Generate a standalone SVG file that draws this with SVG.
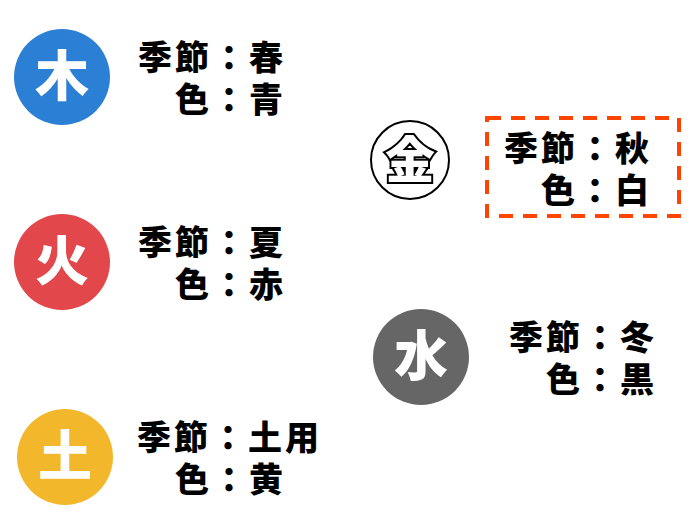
<svg xmlns="http://www.w3.org/2000/svg" width="700" height="525" viewBox="0 0 700 525">
<style>
.t{font-family:"Noto Sans CJK JP","Noto Sans CJK SC",sans-serif;font-weight:900;font-size:34px;letter-spacing:3px;fill:#000;text-anchor:end}
.c{font-family:"Noto Sans CJK JP","Noto Sans CJK SC",sans-serif;font-weight:900;font-size:54px;fill:#fff;text-anchor:middle}
</style>
<rect width="700" height="525" fill="#fff"/>
<g id="wood"><circle cx="62" cy="77" r="48" fill="#2B7FD4"/><text class="c" x="62" y="96">木</text>
<text class="t" x="286" y="70">季節：春</text><text class="t" x="286" y="112">色：青</text></g>
<g id="fire"><circle cx="62" cy="262" r="48" fill="#E2474B"/><text class="c" x="62" y="281">火</text>
<text class="t" x="286" y="255">季節：夏</text><text class="t" x="286" y="297">色：赤</text></g>
<g id="earth"><circle cx="65" cy="457" r="48" fill="#F2B72B"/><text class="c" x="65" y="476">土</text>
<text class="t" x="322" y="450">季節：土用</text><text class="t" x="286" y="492">色：黄</text></g>
<g id="metal"><circle cx="410" cy="160" r="39" fill="#fff" stroke="#000" stroke-width="2"/><text class="c" x="410" y="178" style="stroke:#000;stroke-width:4;paint-order:stroke;font-size:50px">金</text>
<rect x="487" y="118" width="192" height="98" fill="none" stroke="#FF4500" stroke-width="4" stroke-dasharray="14,10"/>
<text class="t" x="652" y="161">季節：秋</text><text class="t" x="652" y="203">色：白</text></g>
<g id="water"><circle cx="421" cy="357" r="48" fill="#666"/><text class="c" x="421" y="376">水</text>
<text class="t" x="657" y="350">季節：冬</text><text class="t" x="657" y="392">色：黒</text></g>
<g id="connectors"/>
</svg>
